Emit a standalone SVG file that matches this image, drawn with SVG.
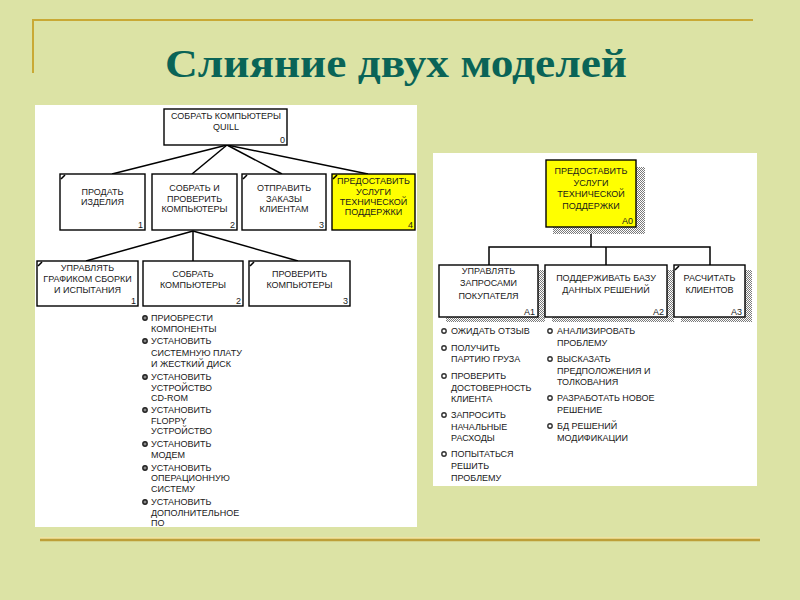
<svg xmlns="http://www.w3.org/2000/svg" width="800" height="600" viewBox="0 0 800 600">
<defs>
<pattern id="hatch" width="2" height="2" patternUnits="userSpaceOnUse"><rect width="2" height="2" fill="#ffffff"/><rect width="1" height="1" fill="#7a7a7a"/><rect x="1" y="1" width="1" height="1" fill="#7a7a7a"/></pattern>
<style>
.box{fill:#ffffff;stroke:#000;stroke-width:1.4}
.yel{fill:#ffff00;stroke:#000;stroke-width:1.4}
.sh{fill:url(#hatch)}
.cm{stroke:#000;stroke-width:1.6}
.t{font-family:"Liberation Sans",Arial,sans-serif;font-size:9px;fill:#1a1a1a;text-anchor:middle}
.n{text-anchor:end}
.l{text-anchor:start}
.con{stroke:#000;stroke-width:1.5;fill:none}
.bl{fill:#fff;stroke:#333;stroke-width:1.4}
.bd{fill:#888;stroke:#222;stroke-width:1.4}
</style>
</defs>
<rect width="800" height="600" fill="#dce3a5"/>
<g id="decor">
<line x1="32" y1="20" x2="753" y2="20" stroke="#c9a935" stroke-width="2"/>
<line x1="33" y1="19" x2="33" y2="73" stroke="#c9a935" stroke-width="2"/>
<line x1="40" y1="538" x2="760" y2="538" stroke="#efe3a0" stroke-width="2"/>
<line x1="40" y1="540" x2="760" y2="540" stroke="#bd9f38" stroke-width="2.5"/>
</g>
<text id="title" x="396" y="77" text-anchor="middle" font-family="Liberation Serif, serif" font-weight="bold" font-size="40" fill="#0a6457" textLength="462" lengthAdjust="spacingAndGlyphs">Слияние двух моделей</text>

<rect x="35" y="105" width="382" height="422" fill="#ffffff"/>
<rect x="433" y="153" width="324" height="333" fill="#ffffff"/>

<g id="connectors">
<line class="con" x1="227" y1="145" x2="112" y2="174"/>
<line class="con" x1="227" y1="145" x2="192" y2="174"/>
<line class="con" x1="227" y1="145" x2="282" y2="174"/>
<line class="con" x1="227" y1="145" x2="368" y2="174"/>
<line class="con" x1="193" y1="231" x2="86" y2="261"/>
<line class="con" x1="193" y1="231" x2="193" y2="261"/>
<line class="con" x1="193" y1="231" x2="298" y2="261"/>
<line class="con" x1="591" y1="227" x2="591" y2="247"/>
<polyline class="con" points="489,265 489,247 710,247 710,265"/>
<line class="con" x1="606" y1="247" x2="606" y2="265"/>
</g>

<g id="n0">
<rect class="box" x="164" y="109" width="123" height="36"/>
<text class="t" x="226" y="118.5">СОБРАТЬ КОМПЬЮТЕРЫ</text>
<text class="t" x="226" y="129.5">QUILL</text>
<text class="t n" x="285" y="142.5">0</text>
</g>
<g id="n1">
<rect class="box" x="60" y="174" width="85" height="56"/>
<line class="cm" x1="61" y1="179" x2="65" y2="175"/>
<text class="t" x="102.5" y="195.4">ПРОДАТЬ</text>
<text class="t" x="102.5" y="205.4">ИЗДЕЛИЯ</text>
<text class="t n" x="143" y="228">1</text>
</g>
<g id="n2">
<rect class="box" x="152" y="174" width="85" height="56"/>
<text class="t" x="194.5" y="191.4">СОБРАТЬ И</text>
<text class="t" x="194.5" y="201.9">ПРОВЕРИТЬ</text>
<text class="t" x="194.5" y="212.4">КОМПЬЮТЕРЫ</text>
<text class="t n" x="235" y="228">2</text>
</g>
<g id="n3">
<rect class="box" x="242" y="174" width="84" height="56"/>
<line class="cm" x1="243" y1="179" x2="247" y2="175"/>
<text class="t" x="284" y="191.4">ОТПРАВИТЬ</text>
<text class="t" x="284" y="201.9">ЗАКАЗЫ</text>
<text class="t" x="284" y="212.4">КЛИЕНТАМ</text>
<text class="t n" x="324" y="228">3</text>
</g>
<g id="n4">
<rect class="yel" x="332" y="174" width="83" height="56"/>
<line class="cm" x1="333" y1="179" x2="337" y2="175"/>
<text class="t" x="373.5" y="184.4">ПРЕДОСТАВИТЬ</text>
<text class="t" x="373.5" y="194.9">УСЛУГИ</text>
<text class="t" x="373.5" y="204.9">ТЕХНИЧЕСКОЙ</text>
<text class="t" x="373.5" y="214.9">ПОДДЕРЖКИ</text>
<text class="t n" x="413" y="228">4</text>
</g>
<g id="n21">
<rect class="box" x="37" y="261" width="101" height="45"/>
<line class="cm" x1="38" y1="266" x2="42" y2="262"/>
<text class="t" x="87.5" y="271.4">УПРАВЛЯТЬ</text>
<text class="t" x="87.5" y="282.4">ГРАФИКОМ СБОРКИ</text>
<text class="t" x="87.5" y="293.4">И ИСПЫТАНИЯ</text>
<text class="t n" x="136" y="304">1</text>
</g>
<g id="n22">
<rect class="box" x="143" y="261" width="100" height="45"/>
<text class="t" x="193" y="277.4">СОБРАТЬ</text>
<text class="t" x="193" y="288.4">КОМПЬЮТЕРЫ</text>
<text class="t n" x="241" y="304">2</text>
</g>
<g id="n23">
<rect class="box" x="249" y="261" width="101" height="45"/>
<line class="cm" x1="250" y1="266" x2="254" y2="262"/>
<text class="t" x="299.5" y="277.4">ПРОВЕРИТЬ</text>
<text class="t" x="299.5" y="288.4">КОМПЬЮТЕРЫ</text>
<text class="t n" x="348" y="304">3</text>
</g>

<g id="list-left">
<circle class="bd" cx="145" cy="318" r="2.2"/>
<circle class="bd" cx="145" cy="341" r="2.2"/>
<circle class="bd" cx="145" cy="377" r="2.2"/>
<circle class="bd" cx="145" cy="410" r="2.2"/>
<circle class="bd" cx="145" cy="444" r="2.2"/>
<circle class="bd" cx="145" cy="468" r="2.2"/>
<circle class="bd" cx="145" cy="502" r="2.2"/>
<text class="t l" x="151" y="321.4">ПРИОБРЕСТИ</text>
<text class="t l" x="151" y="332.4">КОМПОНЕНТЫ</text>
<text class="t l" x="151" y="344.4">УСТАНОВИТЬ</text>
<text class="t l" x="151" y="356.4">СИСТЕМНУЮ ПЛАТУ</text>
<text class="t l" x="151" y="367.4">И ЖЕСТКИЙ ДИСК</text>
<text class="t l" x="151" y="380.4">УСТАНОВИТЬ</text>
<text class="t l" x="151" y="391.4">УСТРОЙСТВО</text>
<text class="t l" x="151" y="401.4">CD-ROM</text>
<text class="t l" x="151" y="413.4">УСТАНОВИТЬ</text>
<text class="t l" x="151" y="424.4">FLOPPY</text>
<text class="t l" x="151" y="434.4">УСТРОЙСТВО</text>
<text class="t l" x="151" y="447.4">УСТАНОВИТЬ</text>
<text class="t l" x="151" y="458.4">МОДЕМ</text>
<text class="t l" x="151" y="471.4">УСТАНОВИТЬ</text>
<text class="t l" x="151" y="481.4">ОПЕРАЦИОННУЮ</text>
<text class="t l" x="151" y="492.4">СИСТЕМУ</text>
<text class="t l" x="151" y="505.4">УСТАНОВИТЬ</text>
<text class="t l" x="151" y="516.4">ДОПОЛНИТЕЛЬНОЕ</text>
<text class="t l" x="151" y="526.4">ПО</text>
</g>

<g id="A0">
<rect class="sh" x="553" y="167" width="92" height="67"/>
<rect class="yel" x="546" y="160" width="90" height="67"/>
<text class="t" x="591" y="174.4">ПРЕДОСТАВИТЬ</text>
<text class="t" x="591" y="186.4">УСЛУГИ</text>
<text class="t" x="591" y="197.4">ТЕХНИЧЕСКОЙ</text>
<text class="t" x="591" y="209.4">ПОДДЕРЖКИ</text>
<text class="t n" x="633" y="224">A0</text>
</g>
<g id="A1">
<rect class="sh" x="446" y="270" width="99" height="52"/>
<rect class="box" x="439" y="265" width="99" height="52"/>
<text class="t" x="488.5" y="274.4">УПРАВЛЯТЬ</text>
<text class="t" x="488.5" y="286.4">ЗАПРОСАМИ</text>
<text class="t" x="488.5" y="299.4">ПОКУПАТЕЛЯ</text>
<text class="t n" x="535" y="314.5">A1</text>
</g>
<g id="A2">
<rect class="sh" x="552" y="270" width="122" height="52"/>
<rect class="box" x="545" y="265" width="122" height="52"/>
<text class="t" x="606" y="281.4">ПОДДЕРЖИВАТЬ БАЗУ</text>
<text class="t" x="606" y="293.4">ДАННЫХ РЕШЕНИЙ</text>
<text class="t n" x="664" y="314.5">A2</text>
</g>
<g id="A3">
<rect class="sh" x="681" y="270" width="71" height="52"/>
<rect class="box" x="674" y="265" width="71" height="52"/>
<line class="cm" x1="675" y1="270" x2="679" y2="266"/>
<text class="t" x="709.5" y="281.4">РАСЧИТАТЬ</text>
<text class="t" x="709.5" y="293.4">КЛИЕНТОВ</text>
<text class="t n" x="742" y="314.5">A3</text>
</g>

<g id="list-right">
<circle class="bl" cx="444" cy="331" r="2.2"/>
<circle class="bl" cx="444" cy="348" r="2.2"/>
<circle class="bl" cx="444" cy="376" r="2.2"/>
<circle class="bl" cx="444" cy="415" r="2.2"/>
<circle class="bl" cx="444" cy="454" r="2.2"/>
<text class="t l" x="451" y="334.4">ОЖИДАТЬ ОТЗЫВ</text>
<text class="t l" x="451" y="351.4">ПОЛУЧИТЬ</text>
<text class="t l" x="451" y="362.4">ПАРТИЮ ГРУЗА</text>
<text class="t l" x="451" y="379.4">ПРОВЕРИТЬ</text>
<text class="t l" x="451" y="391.4">ДОСТОВЕРНОСТЬ</text>
<text class="t l" x="451" y="402.4">КЛИЕНТА</text>
<text class="t l" x="451" y="418.4">ЗАПРОСИТЬ</text>
<text class="t l" x="451" y="430.4">НАЧАЛЬНЫЕ</text>
<text class="t l" x="451" y="441.4">РАСХОДЫ</text>
<text class="t l" x="451" y="457.4">ПОПЫТАТЬСЯ</text>
<text class="t l" x="451" y="469.4">РЕШИТЬ</text>
<text class="t l" x="451" y="481.4">ПРОБЛЕМУ</text>
<circle class="bl" cx="550" cy="331" r="2.2"/>
<circle class="bl" cx="550" cy="359" r="2.2"/>
<circle class="bl" cx="550" cy="398" r="2.2"/>
<circle class="bl" cx="550" cy="426" r="2.2"/>
<text class="t l" x="557" y="334.4">АНАЛИЗИРОВАТЬ</text>
<text class="t l" x="557" y="346.4">ПРОБЛЕМУ</text>
<text class="t l" x="557" y="362.4">ВЫСКАЗАТЬ</text>
<text class="t l" x="557" y="374.4">ПРЕДПОЛОЖЕНИЯ И</text>
<text class="t l" x="557" y="385.4">ТОЛКОВАНИЯ</text>
<text class="t l" x="557" y="401.4">РАЗРАБОТАТЬ НОВОЕ</text>
<text class="t l" x="557" y="413.4">РЕШЕНИЕ</text>
<text class="t l" x="557" y="429.4">БД РЕШЕНИЙ</text>
<text class="t l" x="557" y="441.4">МОДИФИКАЦИИ</text>
</g>
</svg>
